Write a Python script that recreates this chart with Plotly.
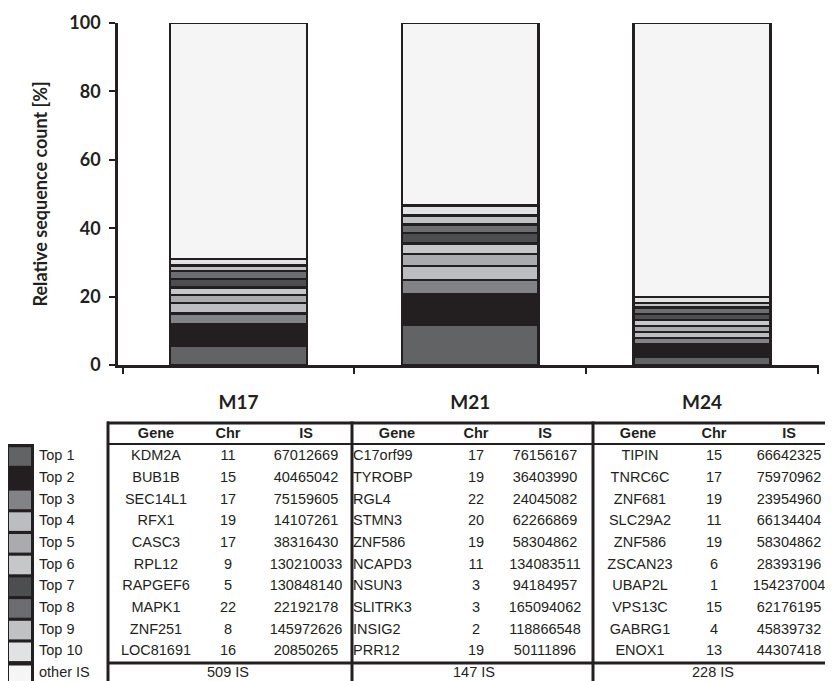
import plotly.graph_objects as go

# ---------------- data ----------------
categories = ["M17", "M21", "M24"]
rank_labels = ["Top 1", "Top 2", "Top 3", "Top 4", "Top 5", "Top 6", "Top 7", "Top 8", "Top 9", "Top 10"]
other_label = "other IS"

# relative sequence count [%] of each top integration site (Top 1 .. Top 10)
m17_pct = [5.6, 6.3, 3.2, 3.1, 2.3, 2.2, 2.5, 2.3, 1.6, 1.9]
m21_pct = [11.7, 9.1, 4.0, 4.1, 3.5, 3.1, 3.1, 2.5, 2.6, 2.9]
m24_pct = [2.4, 3.6, 1.85, 1.75, 1.75, 1.75, 1.75, 2.0, 1.3, 1.8]

m17_gene = ["KDM2A", "BUB1B", "SEC14L1", "RFX1", "CASC3", "RPL12", "RAPGEF6", "MAPK1", "ZNF251", "LOC81691"]
m17_chr = [11, 15, 17, 19, 17, 9, 5, 22, 8, 16]
m17_is = [67012669, 40465042, 75159605, 14107261, 38316430, 130210033, 130848140, 22192178, 145972626, 20850265]

m21_gene = ["C17orf99", "TYROBP", "RGL4", "STMN3", "ZNF586", "NCAPD3", "NSUN3", "SLITRK3", "INSIG2", "PRR12"]
m21_chr = [17, 19, 22, 20, 19, 11, 3, 3, 2, 19]
m21_is = [76156167, 36403990, 24045082, 62266869, 58304862, 134083511, 94184957, 165094062, 118866548, 50111896]

m24_gene = ["TIPIN", "TNRC6C", "ZNF681", "SLC29A2", "ZNF586", "ZSCAN23", "UBAP2L", "VPS13C", "GABRG1", "ENOX1"]
m24_chr = [15, 17, 19, 11, 19, 6, 1, 15, 4, 13]
m24_is = [66642325, 75970962, 23954960, 66134404, 58304862, 28393196, 154237004, 62176195, 45839732, 44307418]

other_is_count = [509, 147, 228]

y_ticks = [0, 20, 40, 60, 80, 100]

# ---------------- styles ----------------
rank_colors = ["#626365", "#231f20", "#818386", "#bcbdc0", "#a9abae",
               "#c6c7c9", "#4d4e50", "#6c6d70", "#c0c1c3", "#e1e2e3"]
other_color = "#f5f5f5"
ink = "#231f20"

# the page body has an 8px margin; the figure is sized so that it fills the window
OFF = 8
VW, VH = 833, 681            # window size (reference pixel frame)
FW, FH = VW - OFF, VH - OFF  # figure size


def dx(px):  # window x pixel -> paper fraction
    return (px - OFF) / FW


def dy(py):  # window y pixel -> paper fraction (from bottom)
    return (FH - (py - OFF)) / FH


fig = go.Figure()

series = [m17_pct, m21_pct, m24_pct]
for i, lab in enumerate(rank_labels):
    fig.add_trace(go.Bar(
        x=categories, y=[s[i] for s in series], name=lab,
        marker=dict(color=rank_colors[i], line=dict(color=ink, width=2.5)),
        width=0.59, showlegend=False, hoverinfo="skip"))
fig.add_trace(go.Bar(
    x=categories, y=[100 - sum(s) for s in series], name=other_label,
    marker=dict(color=other_color, line=dict(color=ink, width=2.5)),
    width=0.59, showlegend=False, hoverinfo="skip"))

# ---------------- table (second, hidden axes in window-pixel units) ----------------
row0, row_step = 456.5, 21.7
row_y = [row0 + row_step * i for i in range(len(rank_labels))]
header_y = 434
other_y = 673

txt_font = dict(family="Liberation Sans, Arial", size=14.5, color=ink)
hdr_font = dict(family="Liberation Sans, Arial", size=14.5, color=ink)


def text_trace(xs, ys, texts, pos="middle center", font=txt_font):
    fig.add_trace(go.Scatter(
        x=xs, y=ys, text=texts, mode="text", textposition=pos,
        textfont=font, xaxis="x2", yaxis="y2", showlegend=False,
        hoverinfo="skip", cliponaxis=False))


# rank labels
text_trace([39] * 10, row_y, rank_labels, "middle right")
text_trace([39], [other_y], [other_label], "middle right")

groups = [
    (m17_gene, m17_chr, m17_is, 156, 228, 306, False, 156),
    (m21_gene, m21_chr, m21_is, 353, 476, 545, True, 397),
    (m24_gene, m24_chr, m24_is, 640, 714, 789, False, 638),
]
other_x = [228, 474, 713]
for gi, (g, c, s, xg, xc, xs, left, xgh) in enumerate(groups):
    text_trace([xgh, xc, xs], [header_y] * 3, ["<b>Gene</b>", "<b>Chr</b>", "<b>IS</b>"], font=hdr_font)
    if left:
        text_trace([xg] * 10, row_y, g, "middle right")
    else:
        text_trace([xg] * 10, row_y, g)
    text_trace([xc] * 10, row_y, [str(v) for v in c])
    text_trace([xs] * 10, row_y, [str(v) for v in s])
    text_trace([other_x[gi]], [other_y], [f"{other_is_count[gi]} IS"])

shapes = []
# table lines
shapes.append(dict(type="line", xref="x2", yref="y2", x0=107, x1=VW, y0=423, y1=423, line=dict(color=ink, width=3)))
shapes.append(dict(type="line", xref="x2", yref="y2", x0=107, x1=VW, y0=444, y1=444, line=dict(color=ink, width=2)))
shapes.append(dict(type="line", xref="x2", yref="y2", x0=107, x1=VW, y0=663, y1=663, line=dict(color=ink, width=3)))
for vx in [108, 352, 593]:
    shapes.append(dict(type="line", xref="x2", yref="y2", x0=vx, x1=vx, y0=421.5, y1=VH + 5, line=dict(color=ink, width=3)))

# legend swatches
shapes.append(dict(type="rect", xref="x2", yref="y2", x0=6, x1=34, y0=444, y1=VH + 10,
                   fillcolor=ink, line=dict(width=0)))
for i, col in enumerate(rank_colors):
    shapes.append(dict(type="rect", xref="x2", yref="y2", x0=9, x1=31, y0=row_y[i] - 9.3, y1=row_y[i] + 9.3,
                       fillcolor=col, line=dict(width=0)))
shapes.append(dict(type="rect", xref="x2", yref="y2", x0=9, x1=31, y0=665.5, y1=VH + 10,
                   fillcolor=other_color, line=dict(width=0)))

fig.update_layout(
    width=FW, height=FH, margin=dict(l=0, r=0, t=0, b=0, autoexpand=False),
    paper_bgcolor="white", plot_bgcolor="rgba(0,0,0,0)",
    barmode="stack",
    shapes=shapes,
    xaxis=dict(
        domain=[dx(118), dx(819)], type="category", categoryorder="array", categoryarray=categories,
        range=[-0.52, 2.505],
        showline=True, linecolor=ink, linewidth=2.5, tickson="boundaries",
        ticks="outside", ticklen=6, tickwidth=2, tickcolor=ink,
        tickfont=dict(family="Lato", size=19, color=ink, weight="bold"),
        ticklabelstandoff=18, showgrid=False, zeroline=False, anchor="y", automargin=False),
    yaxis=dict(
        domain=[dy(365), dy(23)], range=[0, 100], tickvals=y_ticks,
        showline=True, linecolor=ink, linewidth=2.5,
        ticks="outside", ticklen=6, tickwidth=2, tickcolor=ink,
        tickfont=dict(family="Lato", size=18, color=ink, weight="bold"),
        ticklabelstandoff=5,
        title=dict(text="Relative sequence count [%]", standoff=18,
                   font=dict(family="Lato", size=18, color=ink, weight="bold")),
        showgrid=False, zeroline=False, anchor="x", automargin=False),
    xaxis2=dict(domain=[0, 1], range=[OFF, VW], visible=False, anchor="y2", fixedrange=True, automargin=False),
    yaxis2=dict(domain=[0, 1], range=[VH, OFF], visible=False, anchor="x2", fixedrange=True, automargin=False),
)

fig.write_html("out.html")
